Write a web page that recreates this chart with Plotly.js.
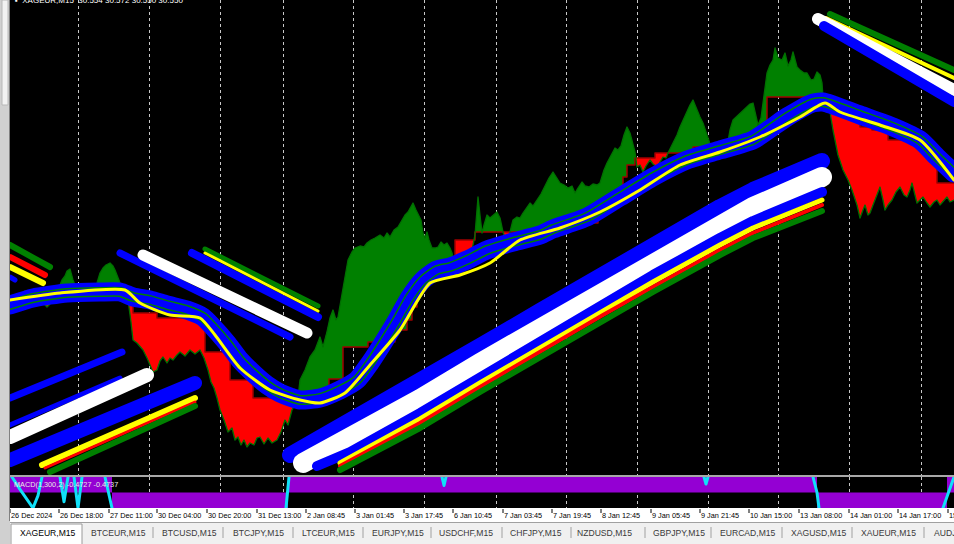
<!DOCTYPE html>
<html>
<head>
<meta charset="utf-8">
<script src="https://cdn.plot.ly/plotly-3.0.1.min.js"></script>
<style>
html,body{margin:0;padding:0;background:#fff;overflow:hidden}
#chart{width:954px;height:544px}
.js-line{stroke-linecap:round;stroke-linejoin:round}
</style>
</head>
<body>
<div id="chart"></div>
<script>
// ---------------- DATA (bar index, price) ----------------
const priceX = [10,15,20,25,29,33,37,43,47,52,57,62,65,67,70,73,77,80,85,90,94,97,100,103,106,110,113,115,118,122,125,
128,131,133,137,140,143,147,150,153,157,160,163,167,170,173,177,180,185,190,195,200,204,208,211,214,217,220,224,228,232,235,238,241,244,247,250,254,257,260,264,268,272,277,281,285,288,292,295,298,
300,305,310,315,320,323,327,330,333,336,338,341,344,346,348,352,355,360,364,367,371,375,380,384,387,390,394,398,402,405,408,411,413,416,419,421,423,425,427,429,432,435,438,441,444,447,450,452,455,
457,460,463,466,469,472,475,
478,480,482,484,487,490,494,497,500,503,506,508,510,
513,517,520,523,527,530,533,537,541,545,549,553,556,560,564,568,572,575,578,582,585,589,593,597,600,604,607,611,615,618,621,624,627,630,632,635,
637,640,643,646,650,653,657,660,663,666,668,
673,677,680,684,687,690,693,696,700,703,706,709,711,
714,718,722,725,727,
730,733,737,740,744,747,750,753,756,758,761,764,767,770,773,775,778,782,785,788,791,793,797,800,804,807,811,814,817,820,822,823,
825,828,830,833,838,843,848,852,857,860,863,865,868,870,873,875,878,880,883,885,888,892,896,900,904,907,910,912,915,917,920,923,927,930,934,937,940,942,945,947,950,954];
const priceY = [29.490,29.515,29.525,29.545,29.520,29.550,29.520,29.490,29.465,29.490,29.535,29.600,29.620,29.645,29.655,29.600,29.550,29.535,29.545,29.540,29.560,29.585,29.635,29.660,29.675,29.685,29.670,29.650,29.610,29.560,29.540,
29.500,29.390,29.300,29.285,29.265,29.250,29.210,29.175,29.140,29.150,29.195,29.215,29.185,29.210,29.200,29.225,29.240,29.220,29.250,29.230,29.250,29.210,29.150,29.090,29.060,29.010,28.950,28.900,28.840,28.860,28.800,28.815,28.775,28.800,28.765,28.785,28.775,28.810,28.815,28.780,28.810,28.785,28.800,28.840,28.900,28.875,28.950,28.980,29.010,
29.100,29.150,29.215,29.250,29.315,29.265,29.340,29.410,29.450,29.400,29.415,29.500,29.590,29.650,29.700,29.740,29.760,29.770,29.765,29.785,29.800,29.810,29.825,29.810,29.835,29.815,29.850,29.865,29.900,29.925,29.940,29.970,29.985,29.950,29.920,29.900,29.835,29.810,29.840,29.800,29.760,29.760,29.765,29.790,29.775,29.785,29.760,29.735,29.675,
29.650,29.670,29.690,29.655,29.700,29.750,29.825,
30.015,29.925,29.835,29.875,29.925,29.910,29.930,29.940,29.910,29.840,29.800,29.790,29.840,
29.900,29.915,29.910,29.935,29.965,29.985,29.970,30.000,30.030,30.070,30.110,30.140,30.115,30.085,30.075,30.060,30.070,30.035,30.060,30.090,30.070,30.065,30.080,30.075,30.085,30.150,30.185,30.225,30.260,30.250,30.270,30.325,30.365,30.335,30.300,30.240,
30.165,30.175,30.140,30.170,30.200,30.180,30.165,30.190,30.215,30.210,30.235,
30.285,30.325,30.365,30.410,30.450,30.475,30.500,30.460,30.415,30.385,30.340,30.300,30.265,
30.235,30.215,30.240,30.220,30.265,
30.350,30.400,30.420,30.435,30.450,30.465,30.480,30.485,30.425,30.375,30.410,30.525,30.635,30.675,30.700,30.760,30.710,30.700,30.735,30.670,30.700,30.740,30.665,30.650,30.635,30.635,30.600,30.605,30.640,30.625,30.585,30.515,
30.500,30.475,30.440,30.350,30.225,30.150,30.100,30.050,29.975,29.910,29.950,29.975,29.925,29.935,29.975,30.000,30.040,30.065,30.000,29.950,29.975,30.000,30.040,30.065,30.025,30.015,30.050,30.085,30.025,29.985,30.000,30.015,29.985,29.965,29.990,30.000,29.975,29.985,30.005,30.015,29.990,30.000];

// trailing stop (step line)
const stairX = [10,25,43,53,125,133,157,205,230,253,298,329,343,368,395,407,412,417,440,455,475,553,598,610,612,623,627,635,655,668,693,711,727,750,755,765,767,823,833,843,852,860,872,888,912,937,954];
const stairY = [29.500,29.515,29.520,29.535,29.545,29.435,29.410,29.240,29.100,29.010,29.010,29.105,29.265,29.290,29.350,29.400,29.465,29.620,29.665,29.800,29.840,29.885,29.985,30.000,30.040,30.115,30.175,30.210,30.235,30.235,30.265,30.265,30.265,30.315,30.340,30.350,30.515,30.515,30.485,30.465,30.440,30.365,30.350,30.300,30.275,30.085,30.085];

// trend segments
const segStart = [10,43,53,125,298,455,475,503,510,635,668,711,727,823];
const segTrend = ['up','down','up','down','up','down','up','down','up','down','up','down','up','down'];

// moving-average band
const maX = [10,33,67,100,120,133,150,167,187,203,213,227,240,253,267,280,290,300,320,340,357,370,383,397,410,423,437,450,467,487,513,540,553,587,620,653,687,720,753,787,813,823,833,860,893,920,937,954];
const maY = [29.475,29.510,29.535,29.540,29.540,29.515,29.500,29.475,29.450,29.415,29.365,29.285,29.200,29.135,29.075,29.035,29.015,29.000,29.010,29.050,29.100,29.185,29.285,29.400,29.515,29.600,29.650,29.665,29.700,29.750,29.790,29.825,29.855,29.915,30.015,30.115,30.200,30.250,30.300,30.415,30.485,30.490,30.475,30.425,30.365,30.300,30.215,30.135];
const yelX = [10,60,125,140,170,200,215,240,270,300,320,345,370,400,430,460,490,520,560,600,640,680,720,760,800,825,840,880,920,954];
const yelY = [29.500,29.535,29.550,29.485,29.425,29.410,29.325,29.160,29.050,29.000,28.985,29.035,29.175,29.350,29.585,29.625,29.685,29.800,29.860,29.940,30.050,30.175,30.240,30.315,30.415,30.485,30.440,30.375,30.300,30.100];

// projected channel lines
const projName = ['A green','A red','A yellow','A blue',
  'B blue1','B blue2','B white','B blue3','B yellow','B red','B green',
  'C blue1','C white','C blue2','C green','C yellow',
  'D blue','D white','D blue2','D yellow','D red','D green',
  'E green','E yellow','E white','E blue'];
const projX = [
  [10,50],[10,45],[10,43],[10,15],
  [10,122],[10,120],[10,147],[10,195],[42,195],[45,195],[50,195],
  [120,290],[143,307],[192,318],[205,318],[205,318],
  [290,350,420,480,540,603,653,720,753,822],
  [303,350,420,480,540,603,653,720,753,822],
  [317,350,420,480,540,603,653,720,753,822],
  [340,420,480,540,603,653,720,753,822],
  [340,420,480,540,603,653,720,753,822],
  [340,420,480,540,603,653,720,753,822],
  [830,954],[826,954],[818,954],[824,954]
];
const projY = [
  [29.775,29.665],[29.715,29.625],[29.665,29.585],[29.615,29.600],
  [29.010,29.240],[28.875,29.110],[28.815,29.125],[28.700,29.085],[28.675,29.010],[28.660,28.990],[28.640,28.970],
  [29.735,29.315],[29.725,29.335],[29.735,29.415],[29.755,29.470],[29.735,29.445],
  [28.725,28.890,29.090,29.270,29.445,29.635,29.780,29.965,30.050,30.195],
  [28.685,28.805,29.005,29.185,29.360,29.550,29.695,29.880,29.965,30.115],
  [28.670,28.740,28.935,29.115,29.290,29.480,29.625,29.810,29.895,30.040],
  [28.685,28.905,29.085,29.260,29.445,29.590,29.775,29.860,30.000],
  [28.670,28.885,29.065,29.240,29.425,29.565,29.750,29.835,29.975],
  [28.650,28.860,29.040,29.215,29.400,29.540,29.725,29.810,29.945],
  [30.930,30.650],[30.910,30.610],[30.905,30.550],[30.870,30.490]
];

// MACD(1,300,2) sub-window
const macdX = [10,112,288,817,947,954];
const macdV = [1,-1,1,-1,1,1];
const cyanX = [12,20,33,38,42,null,60,64,68,null,74,78,82,null,105,112,null,286,289,null,442,444,446,null,704,706,708,null,813,817,819,null,943,950,954];
const cyanV = [1,0.2,-1,-0.2,1,null,1,-0.6,1,null,1,-1,1,null,1,-1,null,-1,1,null,1,0.45,1,null,1,0.55,1,null,1,0,-1,null,-1,0.3,1];

// axis / tabs text
const gridX = [78,149,220,283,353,424,496,566,637,708,778,849,921];
const labelX = [10,59,109,157,207,257,306,355,404,453,503,552,601,651,700,749,799,849,898,948];
const labelText = ['26 Dec 2024','26 Dec 18:00','27 Dec 11:00','30 Dec 04:00','30 Dec 20:00','31 Dec 13:00','2 Jan 08:45','3 Jan 01:45','3 Jan 17:45','6 Jan 10:45','7 Jan 03:45','7 Jan 19:45','8 Jan 12:45','9 Jan 05:45','9 Jan 21:45','10 Jan 15:00','13 Jan 08:00','14 Jan 01:00','14 Jan 17:00','15 Jan 09:00'];
const tabText = ['XAGEUR,M15','BTCEUR,M15','BTCUSD,M15','BTCJPY,M15','LTCEUR,M15','EURJPY,M15','USDCHF,M15','CHFJPY,M15','NZDUSD,M15','GBPJPY,M15','EURCAD,M15','XAGUSD,M15','XAUEUR,M15','AUDJPY,M15'];
const tabX = [19,90,161,232,301,371,438,509,576,652,719,790,860,933];
const sepX = [153,223,293,363,431,502,571,645,711,782,852,924];
const titleText = 'XAGEUR,M15  30.554 30.572 30.550 30.550';
const macdText = 'MACD(1,300,2) -0.4727 -0.4737';

// ---------------- DRAWING ----------------
const GREEN = '#008000', RED = '#ff0000', BLUE = '#0000ff', YELLOW = '#ffff00', WHITE = '#ffffff';
const projStyle = [
  [GREEN,6],[RED,6],[YELLOW,6],[BLUE,5],
  [BLUE,7],[BLUE,5],[WHITE,14],[BLUE,14],[YELLOW,6],[RED,3],[GREEN,6],
  [BLUE,7],[WHITE,11],[BLUE,8],[GREEN,5],[YELLOW,3],
  [BLUE,16],[WHITE,20],[BLUE,10],[YELLOW,5],[RED,4],[GREEN,6],
  [GREEN,6],[YELLOW,4],[WHITE,12],[BLUE,10]
];
const pxX = px => (px - 10) / 944;
const pxY = py => (509 - py) / 509;

function interp(xs, ys, x){
  for (let i=0;i<xs.length-1;i++){
    if (x>=xs[i] && x<=xs[i+1]){ const t=(x-xs[i])/(xs[i+1]-xs[i]); return ys[i]+t*(ys[i+1]-ys[i]); }
  }
  return x<xs[0]?ys[0]:ys[ys.length-1];
}
function stepAt(xs, ys, x){ let v=ys[0]; for(let i=0;i<xs.length;i++){ if(xs[i]<=x) v=ys[i]; else break; } return v; }

const traces = [];
for (let i=0;i<segStart.length;i++){
  const s = segStart[i], e = (i+1<segStart.length) ? segStart[i+1] : 954;
  const sx=[s], sy=[stepAt(stairX,stairY,s)];
  stairX.forEach((x,j)=>{ if(x>s && x<e){ sx.push(x); sy.push(stairY[j]); } });
  sx.push(e); sy.push(sy[sy.length-1]);
  const qx=[s], qy=[interp(priceX,priceY,s)];
  priceX.forEach((x,j)=>{ if(x>s && x<e){ qx.push(x); qy.push(priceY[j]); } });
  qx.push(e); qy.push(interp(priceX,priceY,e));
  traces.push({x:sx,y:sy,mode:'lines',line:{width:0,shape:'hv'},xaxis:'x',yaxis:'y',hoverinfo:'skip'});
  traces.push({x:qx,y:qy,mode:'lines',line:{width:0},fill:'tonexty',fillcolor:segTrend[i]==='up'?GREEN:RED,xaxis:'x',yaxis:'y',hoverinfo:'skip'});
}
// outlines
traces.push({x:stairX,y:stairY,mode:'lines',line:{color:'#a00000',width:1.5,shape:'hv'},xaxis:'x',yaxis:'y'});
traces.push({x:priceX,y:priceY,mode:'lines',line:{color:'#007000',width:1.3},xaxis:'x',yaxis:'y'});
// MA band
traces.push({x:maX,y:maY,mode:'lines',line:{color:BLUE,width:19,shape:'spline',smoothing:0.6},xaxis:'x',yaxis:'y'});
traces.push({x:maX,y:maY,mode:'lines',line:{color:GREEN,width:10,shape:'spline',smoothing:0.6},xaxis:'x',yaxis:'y'});
traces.push({x:maX,y:maY,mode:'lines',line:{color:BLUE,width:7,shape:'spline',smoothing:0.6},xaxis:'x',yaxis:'y'});
traces.push({x:yelX,y:yelY,mode:'lines',line:{color:YELLOW,width:3,shape:'spline',smoothing:0.6},xaxis:'x',yaxis:'y'});
// projection channel lines
projX.forEach((xs,k)=>{
  traces.push({x:xs,y:projY[k],name:projName[k],mode:'lines',line:{color:projStyle[k][0],width:projStyle[k][1]},xaxis:'x',yaxis:'y'});
});
// sub window
traces.push({x:macdX,y:macdV,mode:'lines',line:{width:0,shape:'hv'},fill:'tozeroy',fillcolor:'#9400d3',xaxis:'x2',yaxis:'y2'});
traces.push({x:cyanX,y:cyanV,mode:'lines',connectgaps:false,line:{color:'#10e0f8',width:3},xaxis:'x2',yaxis:'y2'});

const shapes = [
  {type:'rect',xref:'paper',yref:'paper',x0:0,x1:1,y0:pxY(477),y1:pxY(475),fillcolor:'#a8a8a8',line:{width:0}},
  {type:'rect',xref:'paper',yref:'paper',x0:pxX(0),x1:pxX(10),y0:pxY(544),y1:pxY(0),fillcolor:'#d0d0d0',line:{width:0}},
  {type:'rect',xref:'paper',yref:'paper',x0:pxX(2),x1:pxX(8),y0:pxY(105),y1:pxY(0),fillcolor:'#f2f2f2',line:{color:'#b8b8b8',width:1}},
  {type:'line',xref:'paper',yref:'paper',x0:pxX(9.5),x1:pxX(9.5),y0:pxY(521),y1:pxY(0),line:{color:'#808080',width:1}},
  {type:'rect',xref:'paper',yref:'paper',x0:pxX(10),x1:pxX(954),y0:pxY(544),y1:pxY(522),fillcolor:'#f0f0f0',line:{width:0}},
  {type:'line',xref:'paper',yref:'paper',x0:pxX(10),x1:pxX(954),y0:pxY(522.5),y1:pxY(522.5),line:{color:'#a0a0a0',width:1}},
  {type:'rect',xref:'paper',yref:'paper',x0:pxX(11),x1:pxX(82),y0:pxY(545),y1:pxY(524),fillcolor:'#ffffff',line:{color:'#9a9a9a',width:1}}
];
sepX.forEach(x=>shapes.push({type:'line',xref:'paper',yref:'paper',x0:pxX(x),x1:pxX(x),y0:pxY(538),y1:pxY(527),line:{color:'#a0a0a0',width:1}}));
labelX.forEach(x=>shapes.push({type:'line',xref:'x',yref:'paper',x0:x,x1:x,y0:pxY(513),y1:pxY(509),line:{color:'#000',width:1}}));

const annotations = [
  {xref:'paper',yref:'paper',x:pxX(13),y:pxY(0),xanchor:'left',yanchor:'middle',showarrow:false,text:'▪  '+titleText,font:{family:'Liberation Sans, Arial',size:8,color:'#ffffff'}},
  {xref:'paper',yref:'paper',x:pxX(12),y:pxY(484),xanchor:'left',yanchor:'middle',showarrow:false,text:macdText,font:{family:'Liberation Sans, Arial',size:7.3,color:'#e8e8e8'}}
];
labelX.forEach((x,i)=>annotations.push({xref:'x',yref:'paper',x:x,y:pxY(515.5),xanchor:'left',yanchor:'middle',showarrow:false,text:labelText[i],borderpad:0,font:{family:'Liberation Sans, Arial',size:7.3,color:'#000'}}));
tabX.forEach((x,i)=>annotations.push({xref:'paper',yref:'paper',x:pxX(x),y:pxY(532.5),xanchor:'left',yanchor:'middle',showarrow:false,text:tabText[i],borderpad:0,font:{family:'Liberation Sans, Arial',size:8.6,color:i===0?'#000':'#3a3a3a'}}));

const axX = {range:[10,954],tickvals:gridX,showticklabels:false,ticks:'',showgrid:true,gridcolor:'#c8c8c8',griddash:'dot',gridwidth:1,zeroline:false,showline:false,fixedrange:true};
const layout = {
  width:954,height:544,margin:{l:10,r:0,t:0,b:35,pad:0},
  paper_bgcolor:'#ffffff',plot_bgcolor:'#000000',showlegend:false,hovermode:false,
  xaxis:Object.assign({domain:[0,1],anchor:'y'},axX),
  xaxis2:Object.assign({domain:[0,1],anchor:'y2',matches:'x'},axX),
  yaxis:{domain:[pxY(475),1],range:[28.625,31.0],showgrid:false,zeroline:false,showticklabels:false,ticks:'',showline:false},
  yaxis2:{domain:[pxY(508),pxY(477)],range:[-1,1],showgrid:false,zeroline:false,showticklabels:false,ticks:'',showline:false},
  shapes:shapes,annotations:annotations
};
Plotly.newPlot('chart',traces,layout,{staticPlot:true,displayModeBar:false});
</script>
</body>
</html>
